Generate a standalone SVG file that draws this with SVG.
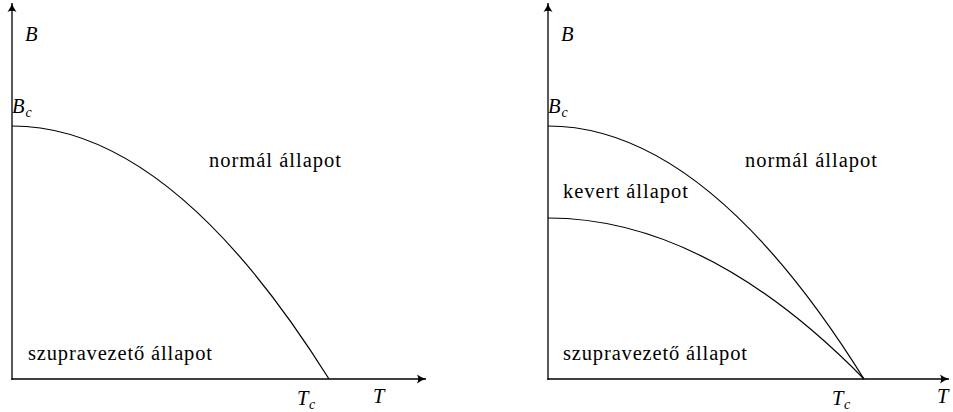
<svg xmlns="http://www.w3.org/2000/svg" width="953" height="412" viewBox="0 0 953 412">
<defs>
<marker id="ar" viewBox="-10 -5 11 10" refX="0" refY="0" markerWidth="11" markerHeight="10" markerUnits="userSpaceOnUse" orient="auto">
<path d="M-9,-4.5 Q-4,-0.8 0,0 Q-4,0.8 -9,4.5 Q-6.5,0 -9,-4.5 Z" fill="#000"/>
</marker>
<style>
.ax{stroke:#000;stroke-width:1.3;fill:none}
.cv{stroke:#000;stroke-width:1.2;fill:none}
</style>
</defs>
<g id="connectors">
<path class="ax" d="M12,380 L12,3" marker-end="url(#ar)"/>
<path class="ax" d="M11.4,379 L426,379" marker-end="url(#ar)"/>
<path class="cv" d="M12,126 Q170.5,126 329,379"/>
<path class="ax" d="M548,380 L548,3" marker-end="url(#ar)"/>
<path class="ax" d="M547.4,379 L949,379" marker-end="url(#ar)"/>
<path class="cv" d="M548,126 Q706,126 864,379"/>
<path class="cv" d="M548,218 Q706,218 864,379"/>
</g>
<g id="left-labels" font-family="Liberation Serif, serif" font-size="20.5">
<text font-style="italic" x="25" y="41">B</text>
<text font-style="italic" x="12" y="113">B</text><text font-style="italic" font-size="14" x="25.5" y="117">c</text>
<text x="209" y="167" textLength="132" lengthAdjust="spacing">normál állapot</text>
<text x="28" y="360" textLength="184" lengthAdjust="spacing">szupravezető állapot</text>
<text font-style="italic" x="297" y="405">T</text><text font-style="italic" font-size="14" x="309" y="409">c</text>
<text font-style="italic" x="373" y="403">T</text>
</g>
<g id="right-labels" font-family="Liberation Serif, serif" font-size="20.5">
<text font-style="italic" x="561" y="41">B</text>
<text font-style="italic" x="548" y="113">B</text><text font-style="italic" font-size="14" x="561.5" y="117">c</text>
<text x="745" y="167" textLength="132" lengthAdjust="spacing">normál állapot</text>
<text x="563" y="198" textLength="125" lengthAdjust="spacing">kevert állapot</text>
<text x="563" y="360" textLength="184" lengthAdjust="spacing">szupravezető állapot</text>
<text font-style="italic" x="832" y="405">T</text><text font-style="italic" font-size="14" x="844" y="409">c</text>
<text font-style="italic" x="937" y="403">T</text>
</g>
</svg>
